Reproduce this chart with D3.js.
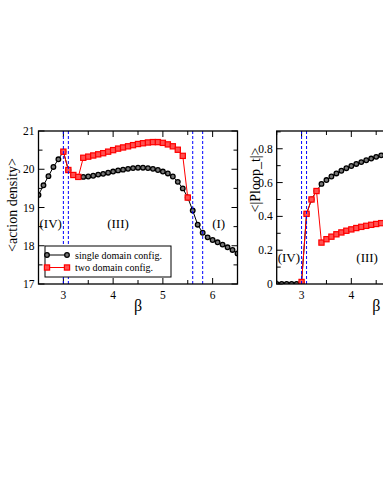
<!DOCTYPE html>
<html><head><meta charset="utf-8">
<script src="https://cdn.jsdelivr.net/npm/d3@7"></script>
<style>body{margin:0;background:#fff}svg{display:block}</style>
</head><body>
<script>
// ---- data ----
const betaSingleLeft = [2.5,2.6,2.7,2.8,2.9,3.0,3.1,3.2,3.3,3.4,3.5,3.6,3.7,3.8,3.9,4.0,4.1,4.2,4.3,4.4,4.5,4.6,4.7,4.8,4.9,5.0,5.1,5.2,5.3,5.4,5.5,5.6,5.7,5.8,5.9,6.0,6.1,6.2,6.3,6.4,6.5];
const singleDomainAction = [19.33,19.58,19.82,20.06,20.26,20.46,19.98,19.85,19.80,19.80,19.81,19.83,19.86,19.88,19.91,19.94,19.97,19.99,20.01,20.03,20.04,20.04,20.03,20.01,19.98,19.94,19.89,19.81,19.67,19.50,19.26,18.92,18.55,18.34,18.22,18.15,18.09,18.03,17.96,17.89,17.80];
const betaTwoLeft = [3.0,3.1,3.2,3.3,3.4,3.5,3.6,3.7,3.8,3.9,4.0,4.1,4.2,4.3,4.4,4.5,4.6,4.7,4.8,4.9,5.0,5.1,5.2,5.3,5.4,5.5];
const twoDomainAction = [20.46,19.98,19.85,19.80,20.30,20.33,20.36,20.39,20.42,20.46,20.50,20.54,20.57,20.60,20.63,20.66,20.68,20.70,20.71,20.71,20.69,20.65,20.60,20.51,20.35,19.26];

const betaSingleRight = [2.5,2.6,2.7,2.8,2.9,3.0,3.1,3.2,3.3,3.4,3.5,3.6,3.7,3.8,3.9,4.0,4.1,4.2,4.3,4.4,4.5,4.6,4.7];
const singleDomainPloop = [0,0,0,0,0,0.01,0.415,0.50,0.55,0.592,0.615,0.636,0.654,0.670,0.685,0.698,0.710,0.721,0.732,0.742,0.752,0.761,0.770];
const betaTwoRight = [3.0,3.1,3.2,3.3,3.4,3.5,3.6,3.7,3.8,3.9,4.0,4.1,4.2,4.3,4.4,4.5,4.6,4.7];
const twoDomainPloop = [0.012,0.415,0.50,0.55,0.245,0.265,0.28,0.294,0.305,0.315,0.323,0.331,0.338,0.344,0.35,0.355,0.36,0.364];

const transitionsLeft = [3.0,3.1,5.6,5.8];
const transitionsRight = [3.0,3.1];
const xTickValues = [3,4,5,6];
const leftYTickValues = [17,18,19,20,21];
const rightYTickValues = [0,0.2,0.4,0.6,0.8];
const regionNamesLeft = ["(IV)","(III)","(I)"];
const regionBetaLeft = [2.52,3.88,5.99];
const regionNamesRight = ["(IV)","(III)"];
const regionBetaRight = [2.52,4.1];
const legendNames = ["single domain config.","two domain config."];

// ---- drawing ----
const W = 383, H = 495;
const FONT = "'Liberation Serif','Times New Roman',serif";
const svg = d3.select("body").append("svg").attr("width", W).attr("height", H);

function panel(opt) {
  const x = d3.scaleLinear().domain([2.5, 6.5]).range([opt.x0, opt.x0 + 199]);
  const y = d3.scaleLinear().domain(opt.yDomain).range([284, 131]);
  const g = svg.append("g");
  const x0 = x.range()[0], x1 = x.range()[1], y0 = 284, y1 = 131;

  // ticks (inward, all four sides)
  const xMinor = d3.range(2.5, 6.51, 0.5).filter(v => !xTickValues.includes(v));
  const tick = (v, major, side) => {
    const L = major ? 6 : 4;
    if (side === "b") g.append("line").attr("x1", x(v)).attr("x2", x(v)).attr("y1", y0).attr("y2", y0 - L);
    if (side === "t") g.append("line").attr("x1", x(v)).attr("x2", x(v)).attr("y1", y1).attr("y2", y1 + L);
    if (side === "l") g.append("line").attr("y1", y(v)).attr("y2", y(v)).attr("x1", x0).attr("x2", x0 + L);
    if (side === "r") g.append("line").attr("y1", y(v)).attr("y2", y(v)).attr("x1", x1).attr("x2", x1 - L);
  };
  xTickValues.forEach(v => { tick(v, true, "b"); tick(v, true, "t"); });
  xMinor.forEach(v => { tick(v, false, "b"); tick(v, false, "t"); });
  opt.yTicks.forEach(v => { tick(v, true, "l"); tick(v, true, "r"); });
  opt.yMinor.forEach(v => { tick(v, false, "l"); tick(v, false, "r"); });
  g.selectAll("line").attr("stroke", "#000").attr("stroke-width", 1);

  // tick labels (only those that fall inside the window)
  g.selectAll(".xl").data(xTickValues.filter(v => x(v) < W - 4)).join("text")
    .attr("x", d => x(d)).attr("y", 299).attr("text-anchor", "middle")
    .attr("font-family", FONT).attr("font-size", 11.5).text(d => d);
  g.selectAll(".yl").data(opt.yTicks).join("text")
    .attr("x", x0 - 4).attr("y", d => y(d) + 4).attr("text-anchor", "end")
    .attr("font-family", FONT).attr("font-size", 11.5).text(d => d);

  // axis titles
  g.append("text").attr("x", (x0 + x1) / 2).attr("y", 311).attr("text-anchor", "middle")
    .attr("font-family", FONT).attr("font-size", 16).text("β");
  g.append("text").attr("transform", `translate(${opt.titleX},${opt.titleY}) rotate(-90)`)
    .attr("text-anchor", "middle").attr("font-family", FONT).attr("font-size", 14).text(opt.title);

  // region labels
  opt.regions.forEach((t, i) => {
    g.append("text").attr("x", x(opt.regionBeta[i])).attr("y", opt.regionY)
      .attr("font-family", FONT).attr("font-size", 13).text(t);
  });

  const clipId = "clip" + Math.round(opt.x0);
  svg.append("clipPath").attr("id", clipId).append("rect")
    .attr("x", x0).attr("y", y1).attr("width", x1 - x0).attr("height", y0 - y1);
  const pg = g.append("g").attr("clip-path", `url(#${clipId})`);

  const line = d3.line().x(d => x(d[0])).y(d => y(d[1]));
  const single = opt.singleX.map((b, i) => [b, opt.singleY[i]]);
  const two = opt.twoX.map((b, i) => [b, opt.twoY[i]]);

  pg.append("path").datum(single).attr("d", line).attr("fill", "none").attr("stroke", "#000").attr("stroke-width", 1);
  pg.append("path").datum(two).attr("d", line).attr("fill", "none").attr("stroke", "#ff0000").attr("stroke-width", 1);
  pg.selectAll(".c").data(single).join("circle")
    .attr("cx", d => x(d[0])).attr("cy", d => y(d[1])).attr("r", 2.3)
    .attr("fill", "#777").attr("stroke", "#000").attr("stroke-width", 1.3);
  pg.selectAll(".s").data(two).join("rect")
    .attr("x", d => x(d[0]) - 2.6).attr("y", d => y(d[1]) - 2.6).attr("width", 5.2).attr("height", 5.2)
    .attr("fill", "#ff5050").attr("stroke", "#ff0000").attr("stroke-width", 1.2);

  // transition lines
  pg.selectAll(".v").data(opt.transitions).join("line")
    .attr("x1", d => x(d)).attr("x2", d => x(d)).attr("y1", y1).attr("y2", y0)
    .attr("stroke", "#0000ff").attr("stroke-width", 1).attr("stroke-dasharray", "3,2");

  // frame
  g.append("rect").attr("x", x0).attr("y", y1).attr("width", x1 - x0).attr("height", y0 - y1)
    .attr("fill", "none").attr("stroke", "#000").attr("stroke-width", 1.3);
  return {x, y, g};
}

panel({
  x0: 38.5, yDomain: [17, 21], yTicks: leftYTickValues, yMinor: [17.5, 18.5, 19.5, 20.5],
  singleX: betaSingleLeft, singleY: singleDomainAction, twoX: betaTwoLeft, twoY: twoDomainAction,
  transitions: transitionsLeft, title: "<action density>", titleX: 17, titleY: 205,
  regions: regionNamesLeft, regionBeta: regionBetaLeft, regionY: 228
});
panel({
  x0: 276.7, yDomain: [0, 0.905], yTicks: rightYTickValues, yMinor: [0.1, 0.3, 0.5, 0.7, 0.9],
  singleX: betaSingleRight, singleY: singleDomainPloop, twoX: betaTwoRight, twoY: twoDomainPloop,
  transitions: transitionsRight, title: "<|Ploop_t|>", titleX: 260, titleY: 180,
  regions: regionNamesRight, regionBeta: regionBetaRight, regionY: 262
});

// legend
const lg = svg.append("g");
lg.append("rect").attr("x", 45).attr("y", 246).attr("width", 126).attr("height", 31)
  .attr("fill", "#fff").attr("stroke", "#000").attr("stroke-width", 1);
legendNames.forEach((name, i) => {
  const yy = 255 + i * 12.5;
  lg.append("line").attr("x1", 47).attr("x2", 67).attr("y1", yy).attr("y2", yy)
    .attr("stroke", i === 0 ? "#000" : "#ff0000").attr("stroke-width", 1);
  [47, 67].forEach(cx => {
    if (i === 0) lg.append("circle").attr("cx", cx).attr("cy", yy).attr("r", 2.3)
      .attr("fill", "#777").attr("stroke", "#000").attr("stroke-width", 1.3);
    else lg.append("rect").attr("x", cx - 2.6).attr("y", yy - 2.6).attr("width", 5.2).attr("height", 5.2)
      .attr("fill", "#ff5050").attr("stroke", "#ff0000").attr("stroke-width", 1.2);
  });
  lg.append("text").attr("x", 75).attr("y", yy + 3.5).attr("font-family", FONT).attr("font-size", 10).text(name);
});
</script>
</body></html>
